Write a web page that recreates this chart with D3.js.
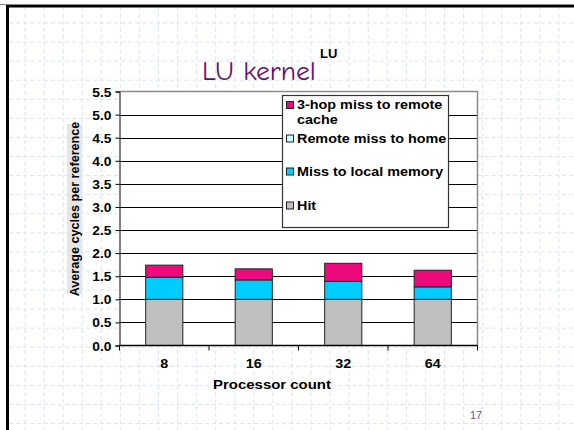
<!DOCTYPE html>
<html>
<head>
<meta charset="utf-8">
<script src="https://cdn.jsdelivr.net/npm/d3@7"></script>
<style>
  html, body { margin: 0; padding: 0; background: #fff; }
  svg { display: block; }
  text { font-family: Arial, "Liberation Sans", sans-serif; }
</style>
</head>
<body>
<script>
// Processor counts along the x axis
const categories = ["8", "16", "32", "64"];
// Average cycles per reference, one array per component of the stack
const hit = [1.0, 1.0, 1.0, 1.0];
const missLocal = [0.48, 0.42, 0.39, 0.27];
const remoteHome = [0, 0, 0, 0];
const threeHop = [0.26, 0.24, 0.39, 0.36];
const yTicks = [0, 0.5, 1, 1.5, 2, 2.5, 3, 3.5, 4, 4.5, 5, 5.5];

const seriesKeys = ["hit", "missLocal", "remoteHome", "threeHop"];
const seriesNames = {
  threeHop: ["3-hop miss to remote", "cache"],
  remoteHome: ["Remote miss to home"],
  missLocal: ["Miss to local memory"],
  hit: ["Hit"]
};
const colors = {
  hit: "#c0c0c0",
  missLocal: "#00ccff",
  remoteHome: "#ccffff",
  threeHop: "#ee0a7c"
};

const W = 574, H = 430;
const svg = d3.select("body").append("svg").attr("width", W).attr("height", H);

// Chart text is set slightly wide
const WIDE = 1.15;

// Slide background: light dashed grid paper
const bg = svg.append("g");
bg.append("rect").attr("width", W).attr("height", H).attr("fill", "#fff");
const gStep = 19.07;
bg.selectAll("line.gv").data(d3.range(25, W, gStep)).join("line")
  .attr("x1", d => d).attr("x2", d => d).attr("y1", 7).attr("y2", H)
  .attr("stroke", "#dde3f8").attr("stroke-dasharray", "4,3");
bg.selectAll("line.gh").data(d3.range(23, H, gStep)).join("line")
  .attr("y1", d => d).attr("y2", d => d).attr("x1", 9).attr("x2", W)
  .attr("stroke", "#dde3f8").attr("stroke-dasharray", "4,3");
// Slide frame (top and left edges)
bg.append("rect").attr("x", 0).attr("y", 4).attr("width", W).attr("height", 1).attr("fill", "#888");
bg.append("rect").attr("x", 6).attr("y", 5).attr("width", W).attr("height", 2.5).attr("fill", "#000");
bg.append("rect").attr("x", 6).attr("y", 5).attr("width", 3).attr("height", H).attr("fill", "#000");

// Title
svg.append("text").attr("transform", "translate(202,80) scale(1.06,1)")
  .attr("fill", "#6a0a6e")
  .style("font-family", "'Comic Sans MS', 'Comic Neue', Lato, sans-serif")
  .style("font-size", "26px")
  .text("LU kernel");
svg.append("text").attr("x", 320).attr("y", 58)
  .style("font-size", "13px").style("font-weight", "bold").attr("fill", "#000")
  .text("LU");

// Scales
const x = d3.scaleBand().domain(categories).range([119.5, 477.5])
  .paddingInner(0.585).paddingOuter(0.2925);
const y = d3.scaleLinear().domain([0, 5.5]).range([345.5, 91.5]);

// Plot area fill
svg.append("rect").attr("x", x.range()[0]).attr("y", y(5.5))
  .attr("width", x.range()[1] - x.range()[0]).attr("height", y(0) - y(5.5))
  .attr("fill", "#fff");

// Horizontal gridlines
svg.append("g").selectAll("line").data(yTicks.filter(v => v > 0 && v < 5.5)).join("line")
  .attr("x1", x.range()[0]).attr("x2", x.range()[1])
  .attr("y1", d => Math.round(y(d)) + 0.5).attr("y2", d => Math.round(y(d)) + 0.5)
  .attr("stroke", "#000");
// Top and right edges of the plot area
svg.append("path")
  .attr("d", `M${x.range()[0]},${y(5.5)}H${x.range()[1]}V${y(0)}`)
  .attr("fill", "none").attr("stroke", "#8c8c8c").attr("stroke-width", 1.5);

// Stacked bars
const rows = categories.map((c, i) => ({
  cat: c, hit: hit[i], missLocal: missLocal[i], remoteHome: remoteHome[i], threeHop: threeHop[i]
}));
const stacked = d3.stack().keys(seriesKeys)(rows);
svg.append("g").selectAll("g").data(stacked).join("g")
  .attr("fill", d => colors[d.key])
  .selectAll("rect").data(d => d.filter(s => s[1] - s[0] > 0)).join("rect")
  .attr("x", d => x(d.data.cat))
  .attr("width", x.bandwidth())
  .attr("y", d => y(d[1]))
  .attr("height", d => y(d[0]) - y(d[1]))
  .attr("stroke", "#222").attr("stroke-width", 1);

// Y axis
const yAxis = svg.append("g").attr("transform", `translate(${x.range()[0]},0)`)
  .call(d3.axisLeft(y).tickValues(yTicks).tickFormat(d3.format(".1f")).tickSize(4).tickPadding(3));
yAxis.select(".domain").attr("stroke", "#000");
yAxis.selectAll(".tick text")
  .attr("x", null).attr("dy", null)
  .attr("transform", `translate(-8,4.5) scale(${WIDE},1)`)
  .style("font-size", "12px").style("font-weight", "bold")
  .style("font-family", "Arial, 'Liberation Sans', sans-serif").attr("fill", "#000");

// X axis: ticks sit on category boundaries
const step = x.step();
const x0 = x(categories[0]) - x.paddingOuter() * step;
const bounds = categories.map(c => x(c) - x.paddingOuter() * step).concat([x0 + step * categories.length]);
const xAxis = svg.append("g");
xAxis.append("line").attr("x1", x.range()[0]).attr("x2", x.range()[1])
  .attr("y1", y(0)).attr("y2", y(0)).attr("stroke", "#000").attr("stroke-width", 1.5);
xAxis.selectAll("line.tk").data(bounds).join("line")
  .attr("x1", d => d).attr("x2", d => d).attr("y1", y(0)).attr("y2", y(0) + 5)
  .attr("stroke", "#000");
xAxis.selectAll("text").data(categories).join("text")
  .attr("transform", d => `translate(${x(d) + x.bandwidth() / 2},368) scale(${WIDE},1)`)
  .attr("text-anchor", "middle")
  .style("font-size", "12.5px").style("font-weight", "bold").text(d => d);

// Axis titles
svg.append("text").attr("transform", `translate(272,389) scale(${WIDE},1)`).attr("text-anchor", "middle")
  .style("font-size", "13px").style("font-weight", "bold").text("Processor count");
svg.append("rect").attr("x", 67).attr("y", 124).attr("width", 15).attr("height", 170)
  .attr("fill", "#e6e6e6");
svg.append("text").attr("transform", `translate(79,209) rotate(-90) scale(1.05,1)`)
  .attr("text-anchor", "middle")
  .style("font-size", "12px").style("font-weight", "bold").text("Average cycles per reference");

// Legend
const lg = svg.append("g");
lg.append("rect").attr("x", 282.5).attr("y", 95.5).attr("width", 166).attr("height", 132)
  .attr("fill", "#fff").attr("stroke", "#333").attr("stroke-width", 1.2);
const legendItems = [
  { key: "threeHop", y: 109 },
  { key: "remoteHome", y: 142.5 },
  { key: "missLocal", y: 175.5 },
  { key: "hit", y: 209.5 }
];
legendItems.forEach(it => {
  lg.append("rect").attr("x", 286.5).attr("y", it.y - 7.5).attr("width", 7).attr("height", 7)
    .attr("fill", colors[it.key]).attr("stroke", "#222");
  seriesNames[it.key].forEach((line, j) => {
    lg.append("text").attr("transform", `translate(297,${it.y + j * 15}) scale(${WIDE},1)`)
      .style("font-size", "12.5px").style("font-weight", "bold").text(line);
  });
});

// Slide number
svg.append("text").attr("x", 476).attr("y", 419).attr("text-anchor", "middle")
  .attr("fill", "#5a5a9e").style("font-size", "11px").text("17");
</script>
</body>
</html>
